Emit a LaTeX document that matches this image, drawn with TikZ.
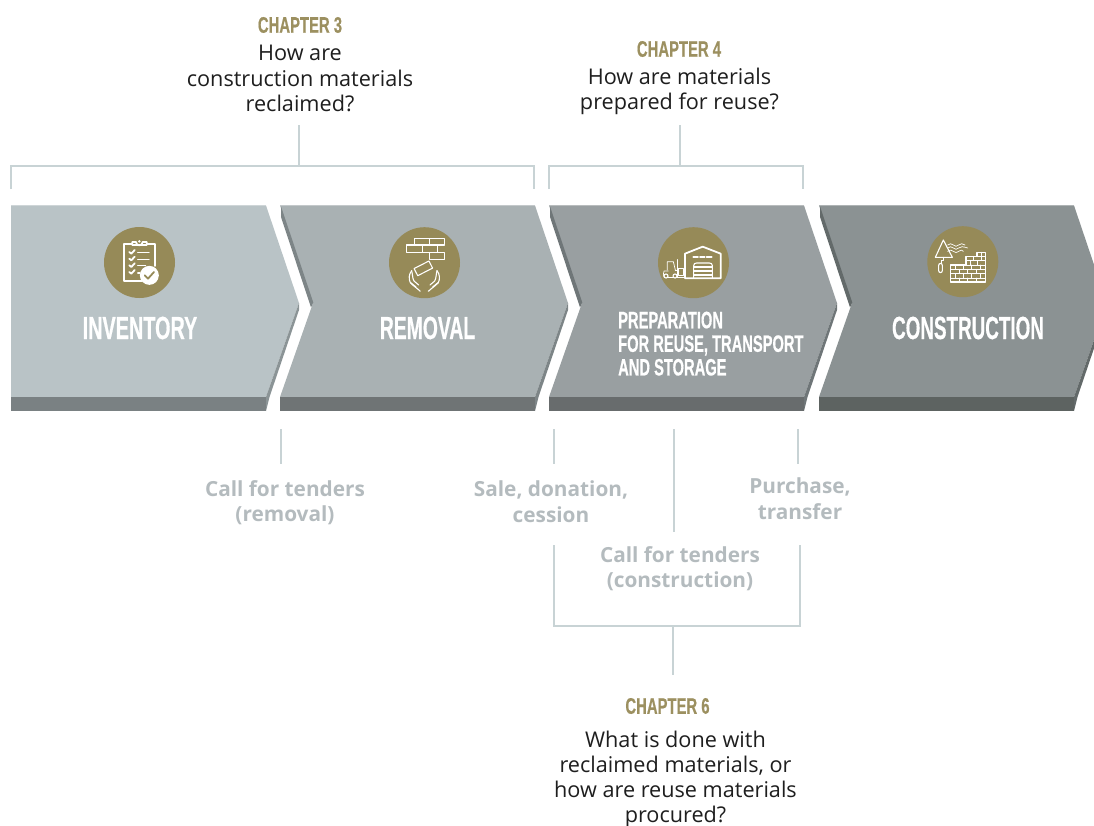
\documentclass[tikz,border=0pt]{standalone}
\usepackage{fontspec}
\setmainfont{Open Sans}
\newfontfamily\headfont[FakeStretch=0.62,FakeBold=0.5]{Liberation Sans Bold}
\newfontfamily\chapfont[FakeStretch=0.66,FakeBold=0.5]{Liberation Sans Bold}
\definecolor{gold}{HTML}{968A58}
\definecolor{chaptxt}{HTML}{9C9060}
\definecolor{linec}{HTML}{C8D3D5}
\definecolor{labc}{HTML}{B4BBBE}
\definecolor{txtc}{HTML}{1E1E1E}
\definecolor{bodyA}{HTML}{B9C3C6}\definecolor{barA}{HTML}{7A8183}\definecolor{sideA}{HTML}{8B9496}
\definecolor{bodyB}{HTML}{A9B1B3}\definecolor{barB}{HTML}{6F7475}\definecolor{sideB}{HTML}{7D8587}
\definecolor{bodyC}{HTML}{999FA1}\definecolor{barC}{HTML}{686C6D}\definecolor{sideC}{HTML}{6F7678}
\definecolor{bodyD}{HTML}{8B9293}\definecolor{barD}{HTML}{5D6361}\definecolor{sideD}{HTML}{636A6A}
\tikzset{
  bracket/.style={draw=linec,line width=2pt},
  iconline/.style={draw=white,line width=1.1pt,line join=round,line cap=round},
  iconthin/.style={draw=white,line width=0.7pt,line join=round,line cap=round},
  iconthick/.style={draw=white,line width=1.8pt,line join=round,line cap=round},
  disc/.style={circle,fill=gold,draw=none,minimum size=71pt,inner sep=0pt},
  stagename/.style={text=white,inner sep=0pt,font=\headfont\fontsize{32}{32}\selectfont},
  stagesmall/.style={text=white,inner sep=0pt,align=left,font=\headfont\fontsize{23.7}{23.6}\selectfont},
  chaphead/.style={text=chaptxt,inner sep=0pt,font=\chapfont\fontsize{22.5}{22}\selectfont},
  question/.style={text=txtc,inner sep=0pt,align=center,font=\fontsize{21.65}{25.5}\selectfont},
  grouplabel/.style={text=labc,inner sep=0pt,align=center,font=\bfseries\fontsize{20.8}{25.5}\selectfont},
}
\begin{document}
\begin{tikzpicture}[x=1pt,y=-1pt]
\useasboundingbox (0,0) rectangle (1094,825);
\clip (0,0) rectangle (1094,825);
% chevrons
\foreach \xl/\cb/\cr/\cs/\nt in {11/bodyA/barA/sideA/0,280/bodyB/barB/sideB/1,549/bodyC/barC/sideC/1,819/bodyD/barD/sideD/1}{
  \fill[\cb] (\xl,205.5) -- ++(255,0) -- ++(33,97.5) -- ++(-33,94) -- ++(-255,0)
     \ifnum\nt=1 -- ++(33,-94) \fi -- cycle;
  \fill[\cb!70!white] (\xl,205) rectangle ++(255,1);
  \fill[\cr] (\xl,397) rectangle ++(255,14);
  \fill[\cs] (\xl+288,303) -- (\xl+255,397) -- (\xl+255,411) -- (\xl+258.5,397) -- (\xl+288,310) -- cycle;
  \ifnum\nt=1
    \fill[\cs] (\xl+1,206.5) -- (\xl+33.3,302.5) -- (\xl+31,307.5) -- (\xl+1,217) -- cycle;
  \fi
}
% discs
\node[disc] (d1) at (139.5,262.5) {};
\node[disc] (d2) at (424.5,262.7) {};
\node[disc] (d3) at (693.5,262.7) {};
\node[disc] (d4) at (962.8,261.7) {};
% clipboard icon
\begin{scope}[shift={(100,222)},scale=1/3]
  \draw[iconthick] (125,176) -- (73,176) -- (73,66) -- (97,66);
  \draw[iconthick] (140,66) -- (164,66) -- (164,132);
  \draw[iconthick,fill=gold] (97,69) -- (97,60) -- (108,60) arc (180:0:10) -- (140,60) -- (140,69) -- cycle;
  \fill[white] (118,58) circle (4);
  \foreach \y in {90,110,130,150}{
    \draw[iconthick] (88,\y) -- (94,\y+5) -- (104,\y-6);
  }
  \foreach \y/\e in {92/147,112/147,131/137,153/120}{
    \draw[iconline] (113,\y) -- (\e,\y);
  }
  \fill[white] (148,160) circle (28.5);
  \draw[gold,line width=1.8pt,line cap=round,line join=round] (134,160) -- (144,170) -- (162,150);
\end{scope}
% bricks and hands icon
\begin{scope}[shift={(360,215)},scale=1/3]
  \draw[iconline] (163,70) rectangle (208,90) (208,70) rectangle (253,90)
     (140,90) rectangle (187,112) (187,90) rectangle (232,112) (208,112) rectangle (253,133);
  \draw[iconline,rotate around={27:(190,160)}] (165,148) rectangle (215,172);
  \draw[iconline] (155,167) .. controls (146,178) and (146,192) .. (151,203) .. controls (160,213) and (172,220) .. (181,229);
  \draw[iconline] (155,167) .. controls (158,178) and (157,190) .. (162,198) -- (176,210);
  \draw[iconline] (152,203) -- (168,216);
  \draw[iconline] (231,167) .. controls (240,178) and (240,192) .. (235,203) .. controls (226,213) and (214,220) .. (205,229);
  \draw[iconline] (231,167) .. controls (228,178) and (229,190) .. (224,198) -- (210,210);
  \draw[iconline] (234,203) -- (218,216);
\end{scope}
% warehouse and forklift icon
\begin{scope}[shift={(640,215)},scale=1/3]
  \draw[iconthick] (135,190) -- (135,116) -- (188,95) -- (242,116) -- (242,190) -- cycle;
  \draw[iconline] (161,190) -- (161,152) .. controls (161,146) and (165,144) .. (170,144) -- (208,144) .. controls (213,144) and (217,146) .. (217,152) -- (217,190);
  \foreach \y in {156,168,180}{\draw[iconline] (161,\y) -- (217,\y);}
  \foreach \a/\b in {160/174,180/194,200/215}{\draw[iconthick] (\a,127) -- (\b,127);}
  \draw[iconthin] (82,165) -- (82,140) -- (100,140) -- (106,165);
  \draw[iconthin] (85,168) -- (72,168) -- (70,178) -- (72,186);
  \draw[iconthin] (82,186) -- (100,186) (110,186) -- (113,186);
  \draw[iconthin] (106,165) -- (113,165);
  \draw[iconline] (78,183) circle (6) (105,183) circle (6);
  \draw[iconline] (113,134) -- (113,188) -- (132,188);
  \draw[iconthin] (116,160) rectangle (130,182);
\end{scope}
% trowel and wall icon
\begin{scope}[shift={(910,215)},scale=1/3]
  \draw[iconline] (100,75) -- (76,127) -- (127,127) -- cycle;
  \draw[iconline] (100,127) -- (100,137) -- (95,137) -- (95,145);
  \draw[iconline,rounded corners=2pt] (86,145) rectangle (97,173);
  \foreach \y/\e in {90/165,99/173,109/160}{
    \draw[iconthin] (113,\y) .. controls (120,\y-5) and (124,\y-5) .. (130,\y) .. controls (136,\y+5) and (140,\y+5) .. (146,\y) .. controls (152,\y-5) and (158,\y-5) .. (\e,\y);
  }
  \draw[iconline] (122,201) -- (122,150) -- (168,150) -- (168,125) -- (201,125) -- (201,112) -- (226,112) -- (226,201) -- cycle;
  \foreach \y in {137,163,176,189}{\draw[iconthin] (\ifnum\y=137 168\else 122\fi,\y) -- (226,\y);}
  \draw[iconthin] (150,150) -- (226,150);
  \draw[iconthin] (201,125) -- (226,125);
  \foreach \x in {213}{\draw[iconthin] (\x,112) -- (\x,125);}
  \foreach \x in {190,213}{\draw[iconthin] (\x,125) -- (\x,137);}
  \foreach \x in {180,203}{\draw[iconthin] (\x,137) -- (\x,150);}
  \foreach \x in {135,160,185,210}{\draw[iconthin] (\x,150) -- (\x,163);\draw[iconthin] (\x,176) -- (\x,189);}
  \foreach \x in {148,173,198}{\draw[iconthin] (\x,163) -- (\x,176);\draw[iconthin] (\x,189) -- (\x,201);}
\end{scope}
% stage names
\node[stagename] (s1) at (140,328) {INVENTORY};
\node[stagename] (s2) at (427.5,328) {\scalebox{0.975}[1]{REMOVAL}};
\node[stagesmall,anchor=north west] (s3) at (618,311.5) {PREPARATION\\FOR REUSE, TRANSPORT\\AND STORAGE};
\node[stagename] (s4) at (968,328) {\scalebox{0.95}[1]{CONSTRUCTION}};
% chapter 3
\node[chaphead] (c3) at (300,25) {CHAPTER 3};
\node[question] (q3) at (300,78.5) {How are\\construction materials\\reclaimed?};
% chapter 4
\node[chaphead] (c4) at (679,49) {CHAPTER 4};
\node[question] (q4) at (679.5,91.5) {How are materials\\prepared for reuse?};
% chapter 6
\node[chaphead] (c6) at (667.5,706) {CHAPTER 6};
\node[question,anchor=north,font=\fontsize{21.65}{25.1}\selectfont] (q6) at (675.5,731) {What is done with\\reclaimed materials, or\\how are reuse materials\\procured?};
% group labels
\node[grouplabel] (l1) at (285,502.5) {Call for tenders\\(removal)};
\node[grouplabel] (l2) at (551,501.5) {Sale, donation,\\cession};
\node[grouplabel] (l3) at (800,498.5) {Purchase,\\transfer};
\node[grouplabel] (l4) at (680,568.5) {Call for tenders\\(construction)};
% top brackets
\coordinate (b3l) at (11,189); \coordinate (b3r) at (534,189);
\coordinate (b3m) at (299,166); \coordinate (b3t) at (299,125);
\draw[bracket] (b3l) |- (b3m) -| (b3r);
\draw[bracket] (b3t) -- (b3m);
\coordinate (b4l) at (549,189); \coordinate (b4r) at (803,189);
\coordinate (b4m) at (680,166); \coordinate (b4t) at (680,125);
\draw[bracket] (b4l) |- (b4m) -| (b4r);
\draw[bracket] (b4t) -- (b4m);
% drop lines
\coordinate (t1) at (280.5,429); \coordinate (e1) at (280.5,464);
\coordinate (t2) at (554,429); \coordinate (e2) at (554,464);
\coordinate (t3) at (673.5,429); \coordinate (e3) at (673.5,532);
\coordinate (t4) at (798,429); \coordinate (e4) at (798,464);
\draw[bracket] (t1) -- (e1);
\draw[bracket] (t2) -- (e2);
\draw[bracket] (t3) -- (e3);
\draw[bracket] (t4) -- (e4);
% lower bracket
\coordinate (g1) at (554,545); \coordinate (g2) at (800,545);
\coordinate (gm) at (673,626); \coordinate (gb) at (673,675);
\draw[bracket] (g1) |- (gm) -| (g2);
\draw[bracket] (gm) -- (gb);
\end{tikzpicture}
\end{document}
